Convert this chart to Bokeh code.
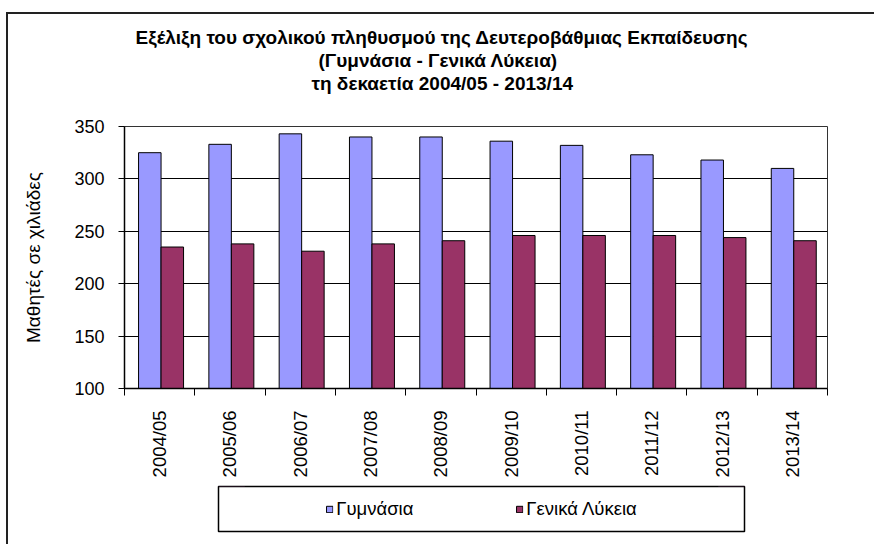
import math
import numpy as np
from bokeh.plotting import figure
from bokeh.layouts import column, row
from bokeh.models import (Range1d, FixedTicker, ColumnDataSource, Legend,
                          LegendItem, Title, Spacer)
from bokeh.transform import dodge
from bokeh.embed import file_html
from bokeh.resources import INLINE

years = ["2004/05", "2005/06", "2006/07", "2007/08", "2008/09",
         "2009/10", "2010/11", "2011/12", "2012/13", "2013/14"]
gymnasia = [325, 333, 343, 340, 340, 336, 332, 323, 318, 310]
lykeia = [235, 238, 231, 238, 241, 246, 246, 246, 244, 241]
y_ticks = [100, 150, 200, 250, 300, 350]
series_names = ["Γυμνάσια", "Γενικά Λύκεια"]
title_lines = ["Εξέλιξη του σχολικού πληθυσμού της Δευτεροβάθμιας Εκπαίδευσης",
               "(Γυμνάσια - Γενικά Λύκεια)",
               "τη δεκαετία 2004/05 - 2013/14"]
y_label = "Μαθητές σε χιλιάδες"

FONT = "Liberation Sans"
GYM_COLOR = "#9999FF"
LYK_COLOR = "#993366"

pos = list(range(len(years)))
src = ColumnDataSource(dict(pos=pos, gym=gymnasia, lyk=lykeia))

# ---- title strip (its empty frame keeps the gap above the chart) ----
p0 = figure(width=866, height=98, output_backend="svg", toolbar_location=None,
            x_range=Range1d(0, 1), y_range=Range1d(0, 1),
            x_axis_type=None, y_axis_type=None,
            min_border_left=116, min_border_right=47, min_border_top=79,
            min_border_bottom=0, background_fill_color="white",
            border_fill_color="white", outline_line_color=None)
p0.grid.visible = False
title_offsets = [11, 194, 187]
for line, off in reversed(list(zip(title_lines, title_offsets))):
    p0.add_layout(Title(text=line, align="left", offset=off, standoff=0,
                        text_font=FONT, text_font_size="19px",
                        text_font_style="bold", text_color="black"), "above")

# ---- main chart ----
p = figure(width=866, height=372, output_backend="svg", toolbar_location=None,
           x_range=Range1d(-0.5, len(years) - 0.5), y_range=Range1d(100, 350),
           min_border_left=116, min_border_right=47, min_border_top=14,
           min_border_bottom=96, background_fill_color="white",
           border_fill_color="white")

p.vbar(x=dodge("pos", -0.14, range=p.x_range), top="gym", bottom=100, width=0.32,
       source=src, fill_color=GYM_COLOR, line_color="black", line_width=1)
p.vbar(x=dodge("pos", 0.18, range=p.x_range), top="lyk", bottom=100, width=0.32,
       source=src, fill_color=LYK_COLOR, line_color="black", line_width=1)

xa = p.xaxis[0]
xa.ticker = FixedTicker(ticks=pos, minor_ticks=[i - 0.5 for i in range(len(years) + 1)])
xa.major_label_overrides = {i: y for i, y in enumerate(years)}
xa.major_label_orientation = math.pi / 2
xa.major_tick_out = 0
xa.major_tick_in = 0
xa.major_tick_line_color = None
xa.minor_tick_out = 7
xa.minor_tick_in = 0
xa.minor_tick_line_color = "black"
xa.axis_line_color = "black"
xa.axis_line_width = 1.5
xa.major_label_standoff = 15
xa.major_label_text_font = FONT
xa.major_label_text_font_size = "18.5px"
xa.major_label_text_color = "black"

ya = p.yaxis[0]
ya.ticker = FixedTicker(ticks=y_ticks, minor_ticks=[])
ya.major_tick_out = 6
ya.major_tick_in = 0
ya.major_tick_line_color = "black"
ya.axis_line_color = "black"
ya.axis_line_width = 1.5
ya.major_label_standoff = 14
ya.major_label_text_font = FONT
ya.major_label_text_font_size = "18px"
ya.major_label_text_color = "black"
ya.axis_label = y_label
ya.axis_label_text_font = FONT
ya.axis_label_text_font_size = "19px"
ya.axis_label_text_font_style = "normal"
ya.axis_label_text_color = "black"
ya.axis_label_standoff = 27

p.xgrid.grid_line_color = None
p.ygrid.grid_line_color = "black"
p.ygrid.grid_line_width = 1
p.outline_line_color = "#333333"
p.outline_line_width = 1

# ---- legend panel ----
p2 = figure(width=530, height=60, output_backend="svg", toolbar_location=None,
            x_range=Range1d(0, 1), y_range=Range1d(0, 1),
            x_axis_type=None, y_axis_type=None,
            min_border_left=2, min_border_right=2, min_border_top=2,
            min_border_bottom=13, background_fill_color="white",
            border_fill_color="white", outline_line_color="black",
            outline_line_width=1.5)
p2.grid.visible = False
# legend swatches use the real data; the bars themselves lie outside p2's range
r1 = p2.vbar(x="pos", top="gym", bottom=100, width=0.1, source=src,
             fill_color=GYM_COLOR, line_color="black", line_width=1)
r2 = p2.vbar(x="pos", top="lyk", bottom=100, width=0.1, source=src,
             fill_color=LYK_COLOR, line_color="black", line_width=1)
legend = Legend(items=[LegendItem(label=series_names[0], renderers=[r1]),
                       LegendItem(label=series_names[1], renderers=[r2])],
                orientation="horizontal", location="center",
                glyph_width=8, glyph_height=8, label_standoff=3,
                label_height=8, spacing=102, padding=0, margin=0,
                border_line_color=None, background_fill_alpha=0,
                label_text_font=FONT, label_text_font_size="18.5px",
                label_text_color="black")
p2.add_layout(legend, "center")

layout = column(p0, p, row(Spacer(width=208, height=60), p2, spacing=0), spacing=0)
layout.styles = {"border-top": "2px solid #222", "border-left": "2px solid #222",
                 "margin-top": "12px", "margin-left": "6px"}

open("out.html", "w").write(file_html(layout, INLINE))
